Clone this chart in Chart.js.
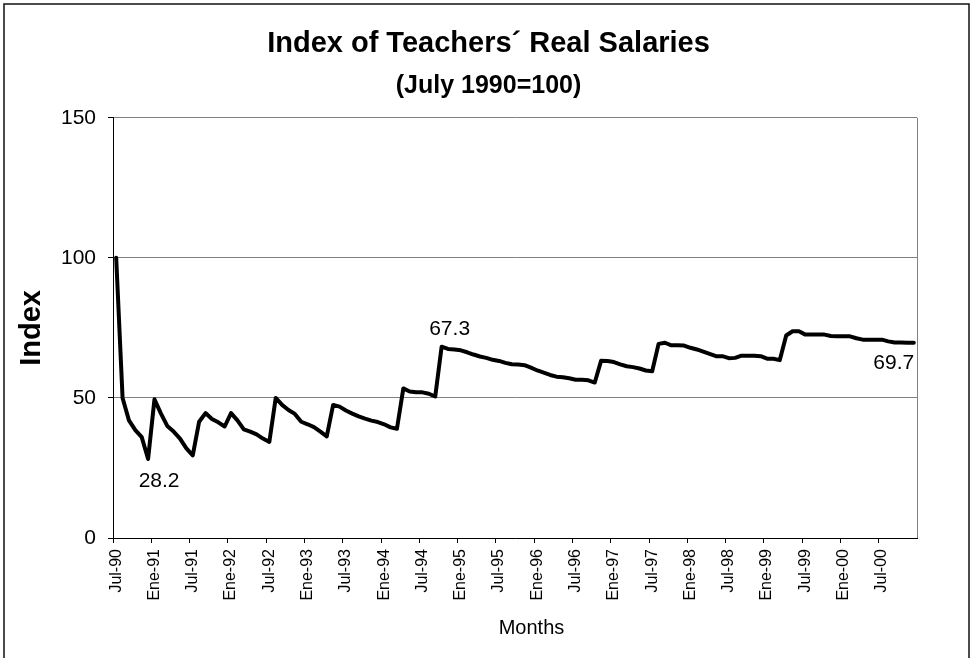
<!DOCTYPE html>
<html>
<head>
<meta charset="utf-8">
<script src="https://cdn.jsdelivr.net/npm/chart.js@4.4.0/dist/chart.umd.min.js"></script>
<style>
	html, body { margin: 0; padding: 0; background: #fff; overflow: hidden; }
	#caja { position: relative; width: 974px; height: 658px; }
</style>
</head>
<body>
<div id="caja"><canvas id="myChart"></canvas></div>
<script>
// Meses (Jul-90 a Dic-00, mensual)
const meses = ['Ene', 'Feb', 'Mar', 'Abr', 'May', 'Jun', 'Jul', 'Ago', 'Sep', 'Oct', 'Nov', 'Dic'];
const etiquetas = [];
for (let a = 1990; a <= 2000; a++) {
	for (let m = 0; m < 12; m++) {
		if (a === 1990 && m < 6) continue;
		etiquetas.push(meses[m] + '-' + String(a).slice(2));
	}
}

// Índice de salarios reales (Julio 1990 = 100)
const indice = [
	100, 50, 42, 38.5, 36, 28.2,
	49.5, 44.5, 40, 38, 35.5, 32,
	29.5, 41.5, 44.6, 42.5, 41.3, 39.8,
	44.6, 42, 38.8, 38, 37, 35.5,
	34.3, 50, 47.5, 45.7, 44.3, 41.5,
	40.6, 39.6, 38, 36.3, 47.5, 46.9,
	45.5, 44.4, 43.4, 42.6, 41.9, 41.4,
	40.6, 39.5, 39, 53.4, 52.3, 52,
	52, 51.5, 50.5, 68.3, 67.5, 67.3,
	67, 66.3, 65.5, 64.8, 64.3, 63.6,
	63.2, 62.5, 62, 61.9, 61.7, 60.8,
	59.8, 59, 58.2, 57.6, 57.4, 57,
	56.5, 56.5, 56.3, 55.5, 63.3, 63.2,
	62.8, 62, 61.3, 61, 60.5, 59.8,
	59.5, 69.3, 69.7, 68.8, 68.8, 68.7,
	67.9, 67.3, 66.5, 65.7, 64.9, 64.9,
	64.2, 64.3, 65.1, 65.1, 65.1, 64.9,
	64, 64, 63.5, 72.3, 73.8, 73.8,
	72.6, 72.6, 72.6, 72.6, 72.1, 72,
	72, 72, 71.3, 70.8, 70.8, 70.8,
	70.8, 70.2, 69.8, 69.8, 69.7, 69.7
];

// Etiquetas de datos
const puntosEtiqueta = [5, 51, 125];
const textosEtiqueta = ['28.2', '67.3', '69.7'];

const ticksY = [0, 50, 100, 150];

const fuente = '"Liberation Sans", Arial, sans-serif';

const marco = {
	id: 'marco',
	afterDraw(chart) {
		const { ctx, chartArea: a, scales: { x, y } } = chart;
		ctx.save();
		// borde derecho del área de trazado
		ctx.strokeStyle = '#808080';
		ctx.lineWidth = 1;
		const xr = Math.round(a.right) + 0.5;
		ctx.beginPath();
		ctx.moveTo(xr, a.top);
		ctx.lineTo(xr, a.bottom);
		ctx.stroke();
		// marco exterior
		ctx.strokeStyle = '#111';
		ctx.lineWidth = 1.5;
		ctx.beginPath();
		ctx.moveTo(4, 660);
		ctx.lineTo(4, 4);
		ctx.lineTo(969, 4);
		ctx.lineTo(969, 660);
		ctx.stroke();
		// etiquetas de datos
		ctx.fillStyle = '#000';
		ctx.font = '21px ' + fuente;
		ctx.textAlign = 'center';
		ctx.textBaseline = 'middle';
		const desp = [[11, 22], [8, -17], [-20, 20]];
		puntosEtiqueta.forEach((i, k) => {
			ctx.fillText(textosEtiqueta[k], x.getPixelForValue(i) + desp[k][0], y.getPixelForValue(indice[i]) + desp[k][1]);
		});
		// título del eje x
		ctx.font = '20px ' + fuente;
		ctx.fillText('Months', 531.5, 628);
		ctx.restore();
	}
};

window.onload = function () {
	const ctx = document.getElementById('myChart').getContext('2d');
	new Chart(ctx, {
		type: 'line',
		data: {
			labels: etiquetas,
			datasets: [{
				label: 'Index',
				data: indice,
				borderColor: '#000',
				borderWidth: 4,
				pointRadius: 0,
				tension: 0,
				fill: false,
				borderJoinStyle: 'round',
				borderCapStyle: 'round'
			}]
		},
		options: {
			responsive: true,
			maintainAspectRatio: false,
			animation: false,
			layout: { padding: { left: 60, right: 57, top: 0, bottom: 0 } },
			plugins: {
				legend: { display: false },
				tooltip: { enabled: false },
				title: {
					display: true,
					text: 'Index of Teachers´ Real Salaries',
					color: '#000',
					font: { family: fuente, size: 29, weight: 'bold' },
					padding: { top: 27, bottom: 4 }
				},
				subtitle: {
					display: true,
					text: '(July 1990=100)',
					color: '#000',
					font: { family: fuente, size: 25, weight: 'bold' },
					padding: { top: 5, bottom: 17 }
				}
			},
			scales: {
				x: {
					offset: true,
					grid: {
						offset: true,
						drawOnChartArea: false,
						tickLength: 5,
						tickColor: c => (c.index % 6 === 0 ? '#000' : 'rgba(0,0,0,0)')
					},
					border: { color: '#000', width: 1 },
					ticks: {
						autoSkip: false,
						minRotation: 90,
						maxRotation: 90,
						padding: 6,
						color: '#000',
						font: { family: fuente, size: 16 },
						callback: function (v, i) { return i % 6 === 0 ? etiquetas[i] : ''; }
					},
					afterFit: s => { s.height = 120; }
				},
				y: {
					min: 0,
					max: 150,
					afterBuildTicks: s => { s.ticks = ticksY.map(v => ({ value: v })); },
					grid: { color: '#808080', tickColor: '#000', tickLength: 5 },
					border: { color: '#000', width: 1 },
					ticks: {
						padding: 12,
						color: '#000',
						font: { family: fuente, size: 21 }
					},
					title: {
						display: true,
						text: 'Index',
						color: '#000',
						font: { family: fuente, size: 29, weight: 'bold' },
						padding: { top: -45, bottom: 0 }
					},
					afterFit: s => { s.width = 53; }
				}
			}
		},
		plugins: [marco]
	});
};
</script>
</body>
</html>
